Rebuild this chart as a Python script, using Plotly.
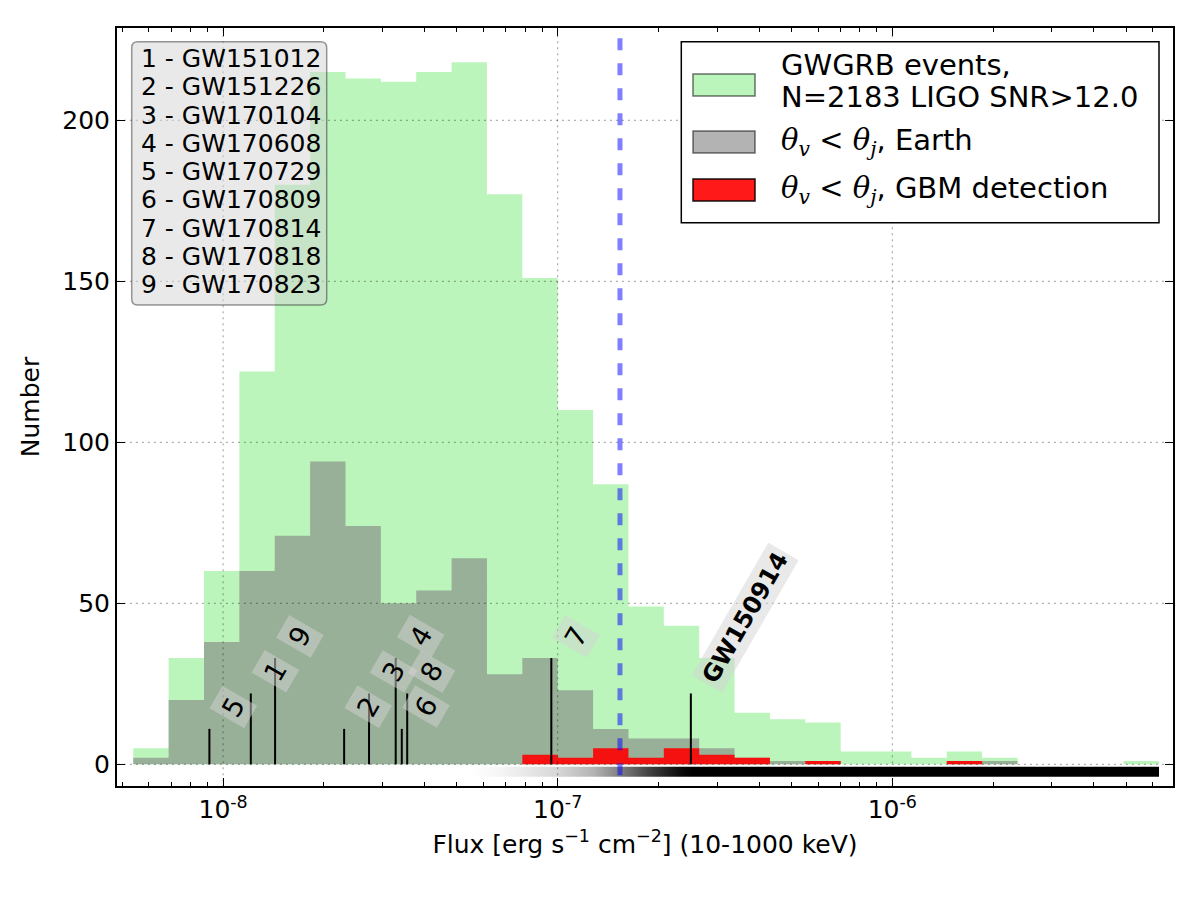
import numpy as np
import plotly.graph_objects as go

# ---------------- data ----------------
log_edge_min = -8.2685
log_edge_max = -5.2029
n_bins = 29
bin_edges = np.logspace(log_edge_min, log_edge_max, n_bins + 1)

counts_all = [5, 33, 60, 122, 180, 215, 213, 212, 215, 218, 177, 151, 110, 87,
              49, 43, 33, 16, 14, 13, 4, 4, 2, 4, 2, 0, 0, 0, 1]
counts_earth = [2, 20, 38, 60, 71, 94, 74, 50, 54, 64, 28, 33, 23, 11,
                8, 8, 5, 2, 1, 1, 0, 0, 0, 1, 1, 0, 0, 0, 0]
counts_gbm = [0, 0, 0, 0, 0, 0, 0, 0, 0, 0, 0, 3, 2, 5,
              2, 5, 3, 2, 0, 1, 0, 0, 0, 1, 0, 0, 0, 0, 0]

event_ids = ["1", "2", "3", "4", "5", "6", "7", "8", "9"]
event_names = ["GW151012", "GW151226", "GW170104", "GW170608", "GW170729",
               "GW170809", "GW170814", "GW170818", "GW170823"]
event_flux = [1.21e-8, 2.30e-8, 2.73e-8, 3.28e-8, 9.10e-9,
              3.42e-8, 9.57e-8, 3.55e-8, 1.43e-8]
event_height = [22, 11, 22, 33, 11, 11, 33, 22, 33]

gw150914_flux = 2.50e-7
gw150914_height = 22

threshold_flux = 1.535e-7

# detection-efficiency shading (log flux -> gray level)
eff_log_flux = [-7.26, -7.17, -7.0, -6.894, -6.788, -6.72, -6.64, -6.60]
eff_gray = [255, 245, 215, 180, 110, 60, 15, 0]

legend_all = ["GWGRB events,", "N=2183 LIGO SNR>12.0"]

x_ticks = [1e-8, 1e-7, 1e-6]
x_tick_text = ["10<sup>-8</sup>", "10<sup>-7</sup>", "10<sup>-6</sup>"]
y_ticks = [0, 50, 100, 150, 200]

# ---------------- layout geometry ----------------
L, R, T, B = 117, 1173, 28, 786
W, H = R - L, B - T
x_range = [-8.3171, -5.1611]
y_range = [-6.74, 228.66]


def px(x):
    return (x - L) / W


def py(y):
    return (B - y) / H


FONT = "DejaVu Sans"
fig = go.Figure()


def step_xy(counts):
    return list(bin_edges), list(counts) + [counts[-1]]


hist_styles = [
    (counts_all, "rgba(144,238,144,0.6)"),
    (counts_earth, "rgba(128,128,128,0.6)"),
    (counts_gbm, "rgba(255,0,0,0.9)"),
]
for counts, col in hist_styles:
    xs, ys = step_xy(counts)
    fig.add_trace(go.Scatter(x=xs, y=ys, mode="lines", line=dict(width=0, shape="hv"),
                             fill="tozeroy", fillcolor=col, showlegend=False,
                             hoverinfo="skip"))

# efficiency gradient bar
l0, l1 = eff_log_flux[0], eff_log_flux[-1]
cscale = [[(l - l0) / (l1 - l0), f"rgb({g},{g},{g})"] for l, g in zip(eff_log_flux, eff_gray)]
e0, e1 = bin_edges[0], bin_edges[-1]
fig.add_trace(go.Scatter(
    x=[e0, e1, e1, e0, e0], y=[-3.85, -3.85, -0.8, -0.8, -3.85], mode="lines",
    line=dict(width=0), fill="toself",
    fillgradient=dict(type="horizontal", colorscale=cscale, start=10 ** l0, stop=10 ** l1),
    showlegend=False, hoverinfo="skip"))

# event marker lines
lx, ly = [], []
for f, h in zip(list(event_flux) + [gw150914_flux], list(event_height) + [gw150914_height]):
    lx += [f, f, None]
    ly += [0, h, None]
fig.add_trace(go.Scatter(x=lx, y=ly, mode="lines", line=dict(color="black", width=2),
                         showlegend=False, hoverinfo="skip"))

# grid (drawn above histograms, like the original)
gx, gy = [], []
for t in x_ticks:
    gx += [t, t, None]
    gy += [-50, 400, None]
for t in y_ticks:
    gx += [1e-10, 1e-3, None]
    gy += [t, t, None]
fig.add_trace(go.Scatter(x=gx, y=gy, mode="lines",
                         line=dict(color="rgba(0,0,0,0.4)", width=1, dash="2px,4px"),
                         showlegend=False, hoverinfo="skip"))

# threshold line
fig.add_trace(go.Scatter(x=[threshold_flux, threshold_flux], y=[-50, 400], mode="lines",
                         line=dict(color="rgba(0,0,255,0.5)", width=5, dash="12px,13px"),
                         showlegend=False, hoverinfo="skip"))

annotations = []
# event number labels
for eid, f, h in zip(event_ids, event_flux, event_height):
    annotations.append(dict(x=np.log10(f), y=h, xref="x", yref="y", text=eid,
                            textangle=-60, xanchor="left", yanchor="bottom",
                            showarrow=False, bgcolor="rgba(211,211,211,0.5)", borderpad=4,
                            font=dict(family=FONT, size=27, color="black")))
annotations.append(dict(x=np.log10(gw150914_flux), y=gw150914_height, xref="x", yref="y",
                        text="<b>GW150914</b>", textangle=-60, xanchor="left",
                        yanchor="bottom", showarrow=False,
                        bgcolor="rgba(211,211,211,0.5)", borderpad=3,
                        font=dict(family=FONT, size=24, color="black")))

shapes = []
# event list box (rounded)
bx0, bx1, by0, by1 = px(131.7), px(326.7), py(305), py(41.7)
rx, ry = 6 / W, 6 / H
path = (f"M {bx0+rx},{by0} L {bx1-rx},{by0} Q {bx1},{by0} {bx1},{by0+ry} "
        f"L {bx1},{by1-ry} Q {bx1},{by1} {bx1-rx},{by1} L {bx0+rx},{by1} "
        f"Q {bx0},{by1} {bx0},{by1-ry} L {bx0},{by0+ry} Q {bx0},{by0} {bx0+rx},{by0} Z")
shapes.append(dict(type="path", xref="paper", yref="paper", path=path,
                   fillcolor="rgba(211,211,211,0.5)",
                   line=dict(color="rgba(0,0,0,0.4)", width=1.5), layer="above"))
for i, (eid, name) in enumerate(zip(event_ids, event_names)):
    annotations.append(dict(x=px(139), y=py(58.4 + 28.3 * i), xref="paper", yref="paper",
                            text=f"{eid} - {name}", xanchor="left", yanchor="middle",
                            showarrow=False,
                            font=dict(family=FONT, size=25, color="black")))

# legend (manual)
shapes.append(dict(type="rect", xref="paper", yref="paper", x0=px(681.3), x1=px(1159),
                   y0=py(222.7), y1=py(41.7), fillcolor="white",
                   line=dict(color="black", width=1.5), layer="above"))
patches = [
    ("rgba(144,238,144,0.6)", "rgba(0,0,0,0.55)", 74, 96),
    ("rgba(128,128,128,0.6)", "rgba(0,0,0,0.55)", 131, 153),
    ("rgba(255,0,0,0.9)", "rgba(0,0,0,0.9)", 179, 201),
]
for fc, lc, y0, y1 in patches:
    shapes.append(dict(type="rect", xref="paper", yref="paper", x0=px(693), x1=px(755),
                       y0=py(y1), y1=py(y0), fillcolor=fc, line=dict(color=lc, width=1.5),
                       layer="above"))
theta = ('<span style="font-family:DejaVu Serif"><i>θ</i><sub><i>v</i></sub>'
         ' &lt; <i>θ</i><sub><i>j</i></sub></span>')
leg_texts = [(legend_all[0], 65), (legend_all[1], 97),
             (theta + ", Earth", 142), (theta + ", GBM detection", 190)]
for txt, yc in leg_texts:
    annotations.append(dict(x=px(779), y=py(yc), xref="paper", yref="paper", text=txt,
                            xanchor="left", yanchor="middle", showarrow=False,
                            font=dict(family=FONT, size=29, color="black")))

axis_common = dict(showline=True, linecolor="black", linewidth=2, mirror="allticks",
                   ticks="inside", ticklen=8, tickwidth=1, tickcolor="black",
                   showgrid=False, zeroline=False,
                   tickfont=dict(family=FONT, size=25, color="black"))

fig.update_layout(
    width=1200, height=900,
    margin=dict(l=L, r=1200 - R, t=T, b=900 - B),
    paper_bgcolor="white", plot_bgcolor="white",
    font=dict(family=FONT, size=25, color="black"),
    showlegend=False,
    xaxis=dict(type="log", range=x_range, tickvals=x_ticks, ticktext=x_tick_text,
               minor=dict(ticks="inside", ticklen=4, tickwidth=1, tickcolor="black",
                          dtick="D1", showgrid=False),
               title=dict(text="Flux [erg s<sup>−1</sup> cm<sup>−2</sup>] (10-1000 keV)",
                          font=dict(family=FONT, size=25), standoff=12),
               **axis_common),
    yaxis=dict(range=y_range, tickvals=y_ticks,
               title=dict(text="Number", font=dict(family=FONT, size=25), standoff=16),
               **axis_common),
    shapes=shapes,
    annotations=annotations,
)

fig.write_html("out.html")
